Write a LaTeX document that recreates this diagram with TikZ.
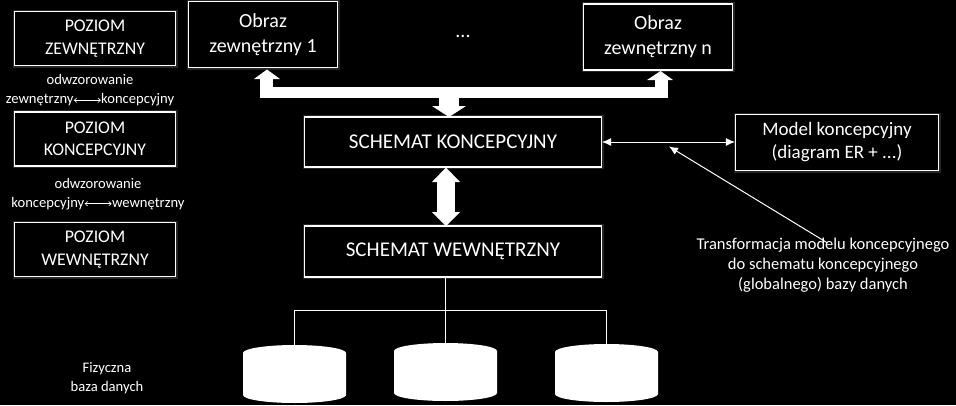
\documentclass[tikz,border=0pt]{standalone}
\usepackage{fontspec}
\setmainfont{Carlito}
\usetikzlibrary{arrows.meta}
\newcommand{\dblarrow}{\tikz[baseline=-3.6pt]\draw[white, line width=0.6pt, {Straight Barb[length=2.5pt,width=4.5pt]}-{Straight Barb[length=2.5pt,width=4.5pt]}] (0pt,0pt) -- (27pt,0pt);}
\begin{document}
\begin{tikzpicture}[x=1pt,y=-1pt,
  every node/.style={text=white, align=center},
  box/.style={draw=white, line width=1.1pt, fill=black, inner sep=0pt,
    preaction={draw=white, line width=4pt, opacity=0.15}},
  levelbox/.style={box, minimum width=161pt, minimum height=54pt, font=\fontsize{17.8}{22.5}\selectfont},
  viewbox/.style={box, minimum width=149pt, minimum height=66pt, font=\fontsize{20}{25}\selectfont},
  schemabox/.style={box, minimum width=297pt, minimum height=50pt, font=\fontsize{21}{24}\selectfont},
  smalltext/.style={font=\fontsize{14.6}{19}\selectfont, inner sep=0pt},
  conn/.style={color=white, line width=1pt},
  tipa/.tip={Latex[length=9pt,width=8pt]},
  fat/.style={fill=white, draw=none},
  cyl/.style={fill=white, draw=none}
]
\fill[black] (0,0) rectangle (956,405);
\useasboundingbox (0,0) rectangle (956,405);

% left column
\node[levelbox] (lz) at (95,38.5) {POZIOM\\ZEWNĘTRZNY};
\node[levelbox] (lk) at (95,139) {POZIOM\\KONCEPCYJNY};
\node[levelbox] (lw) at (95,249.5) {POZIOM\\WEWNĘTRZNY};
\node[smalltext] (m1) at (90,90.5) {odwzorowanie\\zewnętrzny\dblarrow koncepcyjny};
\node[smalltext] (m2) at (98,194) {odwzorowanie\\koncepcyjny\dblarrow wewnętrzny};
\node[smalltext] (fiz) at (107,378) {Fizyczna\\baza danych};

% top views
\node[viewbox] (o1) at (263,34.5) {Obraz\\zewnętrzny 1};
\node[viewbox] (on) at (658,37) {Obraz\\zewnętrzny n};
\node[font=\fontsize{20}{24}\selectfont] (dots) at (463,36) {...};

% schemas
\node[schemabox] (sk) at (453,142) {SCHEMAT KONCEPCYJNY};
\node[schemabox, minimum height=51pt] (sw) at (453,251.5) {SCHEMAT WEWNĘTRZNY};

% conceptual model
\node[box, minimum width=203pt, minimum height=56pt, font=\fontsize{19}{23}\selectfont] (mk) at (837,142.5) {Model koncepcyjny\\(diagram ER + ...)};
\node[font=\fontsize{16.5}{20}\selectfont, inner sep=1pt] (ann) at (823,265) {Transformacja modelu koncepcyjnego\\do schematu koncepcyjnego\\(globalnego) bazy danych};

% fat arrows between views and conceptual schema
\fill[fat] (260,87) rectangle (668,98);
\fill[fat] (260,79) rectangle (273,98);
\fill[fat] (254,79) -- (280,79) -- (267,69.5) -- cycle;
\fill[fat] (655,80) rectangle (668,98);
\fill[fat] (647,80) -- (673,80) -- (660.5,71) -- cycle;
\fill[fat] (439,97) rectangle (459,106);
\fill[fat] (432,106) -- (466,106) -- (449,117) -- cycle;

% fat double arrow between schemas
\fill[fat] (437,181) rectangle (455,213);
\fill[fat] (432,182) -- (460,182) -- (446,167.5) -- cycle;
\fill[fat] (432,212) -- (460,212) -- (446,226) -- cycle;

% thin double arrow and annotation arrow
\draw[conn, tipa-tipa] (sk.east) -- (mk.west |- sk.east);
\coordinate (tip) at (669,146.5);
\draw[conn, -tipa] ([xshift=4pt,yshift=-6pt]ann.north) -- (tip);

% cylinders
\foreach \n/\cx/\ty in {c1/294.5/345, c2/445.5/343, c3/606.5/344}{
  \fill[cyl] (\cx-51.5,\ty+8) arc[start angle=180, end angle=360, x radius=51.5, y radius=8]
    -- (\cx+51.5,\ty+50) arc[start angle=0, end angle=180, x radius=51.5, y radius=8] -- cycle;
  \coordinate (\n) at (\cx,\ty);
}

% tree from internal schema to physical storage
\coordinate (j) at (0,310);
\draw[conn] (c2 |- sw.south) -- (c2);
\draw[conn] (c1) -- (c1 |- j) -- (c3 |- j) -- (c3);
\end{tikzpicture}
\end{document}
